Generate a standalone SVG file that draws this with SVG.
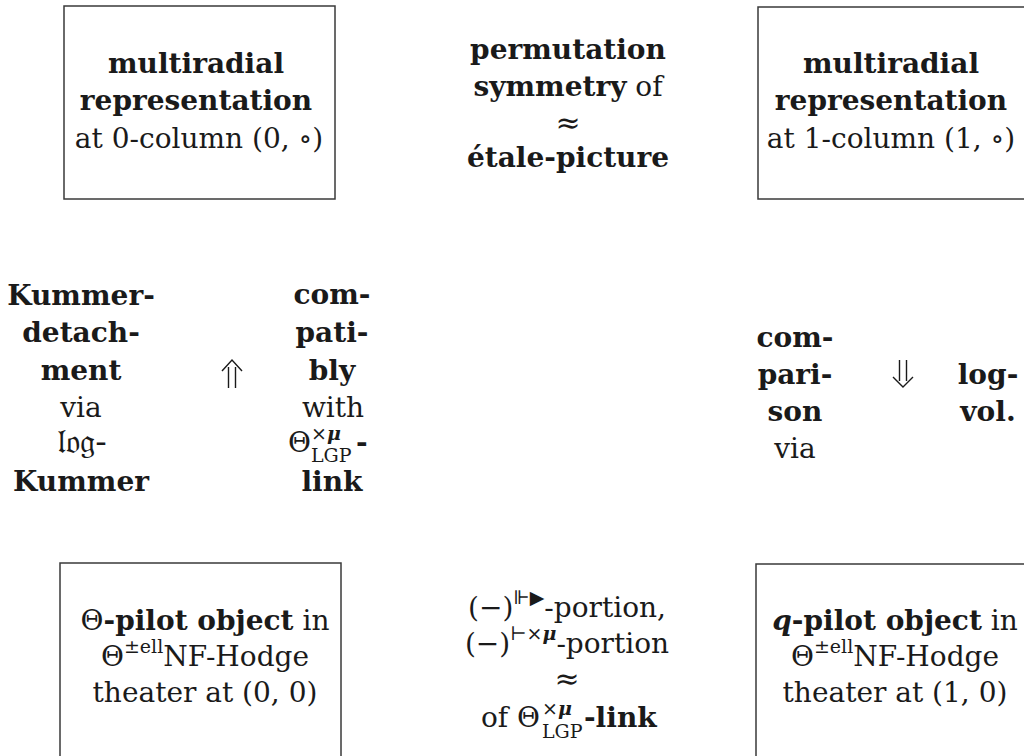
<svg xmlns="http://www.w3.org/2000/svg" width="1024" height="756" viewBox="0 0 1024 756">
<style>
text{font-family:"DejaVu Serif","Liberation Serif",serif;font-size:28px;fill:#1a1a1a;text-anchor:middle}
.b{font-weight:bold}
.s{font-size:19px}
.bi{font-weight:bold;font-style:italic}
.st{text-anchor:start}
.ap{font-size:30px}
.box{fill:#fff;stroke:#3a3a3a;stroke-width:1.5}
.arr{fill:none;stroke:#1a1a1a;stroke-width:1.4}
</style>
<rect width="1024" height="756" fill="#fff"/>
<g id="node-multiradial-0">
<rect class="box" x="64" y="6" width="271" height="193"/>
<text x="196" y="73" class="b">multiradial</text>
<text x="196" y="110" class="b">representation</text>
<text x="199" y="148">at 0-column (0, ∘)</text>
</g>
<g id="node-permutation">
<text x="568" y="59" class="b">permutation</text>
<text x="568" y="96"><tspan class="b">symmetry</tspan> of</text>
<text x="568" y="133" class="ap">≈</text>
<text x="568" y="167" class="b">étale-picture</text>
</g>
<g id="node-multiradial-1">
<rect class="box" x="758" y="7" width="280" height="192"/>
<text x="891" y="73" class="b">multiradial</text>
<text x="891" y="110" class="b">representation</text>
<text x="891" y="148">at 1-column (1, ∘)</text>
</g>
<g id="node-kummer">
<text x="81" y="305" class="b">Kummer-</text>
<text x="81" y="342" class="b">detach-</text>
<text x="81" y="380" class="b">ment</text>
<text x="81" y="417">via</text>
<text x="82" y="453" style="font-size:34px">𝔩𝔬𝔤-</text>
<text x="81" y="491" class="b">Kummer</text>
</g>
<g id="node-compatibly">
<text x="332" y="304" class="b">com-</text>
<text x="332" y="342" class="b">pati-</text>
<text x="332" y="380" class="b">bly</text>
<text x="333" y="417">with</text>
<text class="st" x="288" y="452">Θ</text>
<text class="st s" x="311" y="440">×<tspan class="bi">μ</tspan></text>
<text class="st s" x="311" y="462">LGP</text>
<text class="st b" x="356" y="452">-</text>
<text x="332" y="491" class="b">link</text>
</g>
<g id="node-comparison">
<text x="795" y="347" class="b">com-</text>
<text x="795" y="384" class="b">pari-</text>
<text x="795" y="421" class="b">son</text>
<text x="795" y="458">via</text>
</g>
<g id="node-logvol">
<text x="988" y="384" class="b">log-</text>
<text x="988" y="421" class="b">vol.</text>
</g>
<g id="node-theta-pilot">
<rect class="box" x="60" y="563" width="281" height="200"/>
<text x="205" y="630">Θ<tspan class="b">-pilot object</tspan> in</text>
<text x="205" y="666">Θ<tspan class="s" dy="-13">±ell</tspan><tspan dy="13">NF-Hodge</tspan></text>
<text x="205" y="702">theater at (0, 0)</text>
</g>
<g id="node-portion">
<text x="567" y="617">(−)<tspan class="s" dy="-13">⊩▶</tspan><tspan dy="13">-portion,</tspan></text>
<text x="567" y="653">(−)<tspan class="s" dy="-13">⊢×<tspan class="bi">μ</tspan></tspan><tspan dy="13">-portion</tspan></text>
<text x="567" y="689" class="ap">≈</text>
<text class="st" x="481" y="727">of Θ</text>
<text class="st s" x="542" y="715">×<tspan class="bi">μ</tspan></text>
<text class="st s" x="542" y="738">LGP</text>
<text class="st b" x="584" y="727">-link</text>
</g>
<g id="node-q-pilot">
<rect class="box" x="756" y="564" width="282" height="200"/>
<text x="895" y="630"><tspan class="bi">q</tspan><tspan class="b">-pilot object</tspan> in</text>
<text x="895" y="666">Θ<tspan class="s" dy="-13">±ell</tspan><tspan dy="13">NF-Hodge</tspan></text>
<text x="895" y="702">theater at (1, 0)</text>
</g>
<g id="connectors">
<path class="arr" d="M228.5 367V388M235.5 367V388M222 371L232 360L242 371"/>
<path class="arr" d="M899.5 360V381M906.5 360V381M893 377L903 387L913 377"/>
</g>
</svg>
